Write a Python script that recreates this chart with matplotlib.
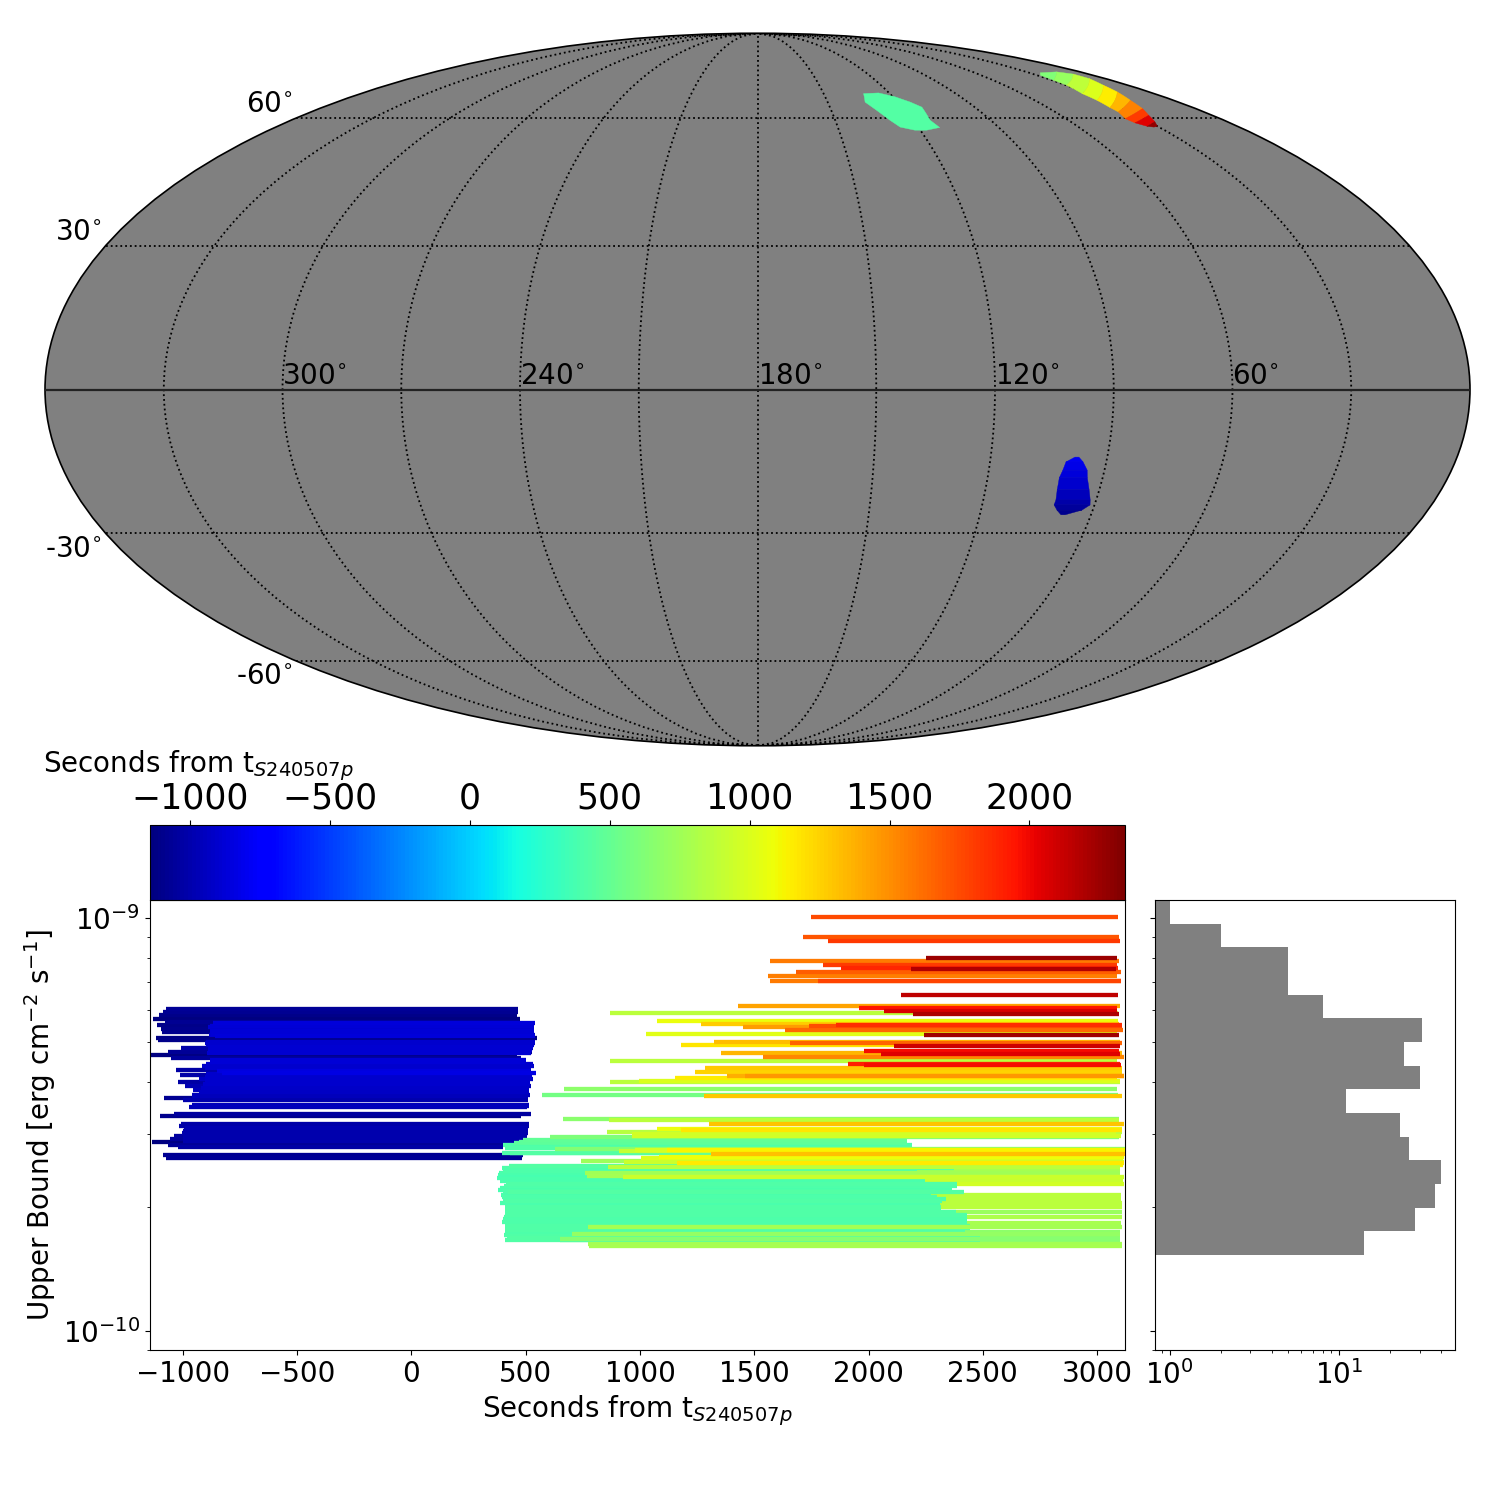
import numpy as np
import matplotlib
matplotlib.use("Agg")
import matplotlib.pyplot as plt
from matplotlib.colors import Normalize
from matplotlib.cm import ScalarMappable
from matplotlib.transforms import offset_copy

T_MIN, T_MAX = -1144, 2342
GRAY = "#808080"
XLABEL = r"Seconds from t$_{S240507p}$"

# Sky regions: (dec, ra_left, ra_right) rows with arrival-time colours
blue_dec = [-13.9, -14.9, -16.6, -18.2, -20.7, -22.85, -23.9, -25.0, -26.0]
blue_ra_l = [98.3, 100.4, 100.8, 101.3, 101.1, 100.7, 100.8, 99.6, 98.1]
blue_ra_r = [97.3, 96.0, 94.5, 94.0, 92.7, 91.6, 91.2, 92.9, 97.0]
blue_time = [-790, -820, -860, -900, -960, -1010, -1060, -1100, -1130]

teal_ra = [131.9, 124.8, 119.1, 114.7, 111.9, 113.4, 112.1, 117.7, 122.0, 126.7, 128.9, 131.5, 134.0]
teal_dec = [66.7, 66.9, 65.8, 64.3, 62.9, 59.4, 57.5, 56.8, 56.8, 57.6, 59.4, 62.0, 64.3]
teal_time = 430

streak_ra_top = [24.1, 13.2, 8.4, 8.4, 12.0, 14.7, 18.7, 21.9, 25.2, 27.8, 30.1]
streak_dec_top = [73.0, 73.3, 72.6, 71.2, 69.2, 67.2, 64.8, 62.5, 60.7, 59.0, 57.8]
streak_ra_bot = [28.4, 29.3, 29.8, 32.7, 33.1, 34.3, 34.6, 37.0, 36.2, 33.9, 31.9]
streak_dec_bot = [72.2, 70.7, 69.2, 66.7, 64.8, 62.8, 61.6, 59.8, 58.7, 57.8, 57.6]
streak_time = [620, 720, 880, 1000, 1150, 1350, 1550, 1800, 2050, 2280, 2300]

# Upper bound intervals (ub in 1e-10 erg/cm2/s)
blue_start = [-1072, -1089, -1105, -1131, -1079, -870, -1114, -1096, -1092, -886, -1118, -1109, -904,
              -1009, -1064, -1142, -1053, -882, -917, -1031, -831, -1013, -930, -1022, -991, -956,
              -961, -1083, -1000, -961, -974, -1039, -1101, -1018, -996, -1004, -1039, -1057, -1136,
              -1066, -1022, -1088, -1074,
              -880, -890, -880, -875, -860, -900, -900, -890, -890, -895, -880, -900, -905, -850,
              -900, -905, -905, -910, -920, -930, -960, -960, -1010, -990, -1000, -1000, -1000, -1000]
blue_end = [465, 465, 460, 475, 470, 541, 456, 536, 533, 541, 548, 536, 541,
            532, 527, 460, 478, 497, 536, 523, 545, 519, 532, 519, 523, 508,
            519, 508, 510, 514, 506, 523, 479, 514, 508, 508, 506, 490, 470,
            402, 402, 488, 485,
            530, 535, 536, 536, 540, 540, 535, 530, 528, 525, 500, 530, 523, 520,
            525, 528, 520, 520, 515, 515, 510, 514, 515, 510, 510, 505, 500, 485]
blue_ub = [6.02, 5.93, 5.82, 5.69, 5.60, 5.58, 5.51, 5.38, 5.29, 5.21, 5.13, 5.05, 4.98,
           4.84, 4.74, 4.66, 4.57, 4.48, 4.39, 4.29, 4.22, 4.16, 4.07, 4.00, 3.92, 3.84,
           3.73, 3.67, 3.63, 3.53, 3.48, 3.36, 3.31, 3.14, 3.07, 3.02, 2.97, 2.92, 2.87,
           2.82, 2.79, 2.66, 2.63,
           5.46, 5.43, 5.33, 5.25, 5.17, 5.01, 4.92, 4.88, 4.79, 4.70, 4.52, 4.43, 4.34, 4.25,
           4.19, 4.11, 4.03, 3.96, 3.88, 3.78, 3.70, 3.50, 3.17, 3.10, 3.05, 2.99, 2.95, 2.89]

under_start = [1120, 780, 780, 780, 913, 960, 860, 860, 860, 860, 730, 808, 780, 780, 680, 660, 650]
under_end = [3115, 3100, 3100, 3100, 3115, 3118, 3105, 3105, 3109, 3109, 3109, 3111, 3105, 3105, 3100, 3100, 3100]
under_ub = [2.52, 2.47, 2.43, 2.37, 2.31, 2.27, 2.13, 2.09, 2.04, 2.00, 1.94, 1.89, 1.83, 1.80, 1.74, 1.71, 1.66]

teal_start = [488, 470, 402, 409, 396, 431, 427, 405, 383, 374, 387, 414, 387, 379, 422, 392, 400,
              387, 409, 409, 409, 409, 405, 396, 409, 414, 405, 431, 409,
              450, 395, 400, 378, 390, 405, 400, 395, 410, 410, 412, 400, 410, 408, 420]
teal_end = [2168, 2147, 2190, 2190, 1311, 1311, 2374, 2212, 2212, 2212, 2247, 2387, 2365, 2291, 2418,
            2274, 2338, 2313, 2317, 2317, 2383, 2431, 2335, 2431, 2444, 2422, 2422, 2488, 2488,
            2168, 2374, 2212, 2212, 2240, 2387, 2291, 2300, 2320, 2317, 2383, 2431, 2444, 2422, 2488]
teal_ub = [2.90, 2.87, 2.82, 2.78, 2.70, 2.69, 2.505, 2.46, 2.41, 2.35, 2.31, 2.27, 2.22, 2.20, 2.17,
           2.13, 2.09, 2.04, 2.00, 1.96, 1.93, 1.905, 1.89, 1.84, 1.80, 1.76, 1.71, 1.68, 1.66,
           2.85, 2.48, 2.435, 2.38, 2.33, 2.25, 2.185, 2.11, 2.065, 1.98, 1.945, 1.865, 1.78, 1.735, 1.695]

late_start = [1747, 1712, 1823, 2251, 1568, 1801, 1880, 2186, 1682, 1560, 1568, 1779, 2140, 1428, 1958,
              2067, 869, 2194, 1075, 1267, 1739, 1858, 1451, 1634, 1026, 2243, 1324, 1655, 1178, 2110,
              1980, 1354, 2054, 1538, 869, 1910, 1980, 1284, 1240, 1381, 1459, 1153, 996, 869, 668,
              571, 1280,
              663, 864, 1302, 1074, 856, 1179, 965, 606, 965, 628, 978, 908, 1117, 1311, 1004, 1083,
              742, 930, 1162, 860, 759, 768, 927, 772, 702, 650, 772, 777]
late_end = [3091, 3094, 3099, 3086, 3094, 3086, 3091, 3083, 3103, 3086, 3103, 3103, 3091, 3099, 3086,
            3086, 3091, 3094, 3091, 3094, 3108, 3108, 3108, 3113, 3089, 3094, 3099, 3108, 3094, 3099,
            3094, 3108, 3099, 3116, 3086, 3099, 3103, 3108, 3108, 3116, 3116, 3086, 3099, 3099, 3086,
            3091, 3108,
            3096, 3096, 3118, 3107, 3109, 3109, 3083, 3096, 3105, 3122, 3122, 3122, 3122, 3122, 3115, 3118,
            3096, 3118, 3118, 3100, 3100, 3100, 3118, 3111, 3100, 3100, 3109, 3109]
late_ub = [10.07, 9.01, 8.81, 8.01, 7.87, 7.69, 7.55, 7.53, 7.40, 7.23, 7.05, 7.04, 6.51, 6.12, 6.05,
           5.95, 5.88, 5.85, 5.63, 5.54, 5.48, 5.52, 5.45, 5.36, 5.24, 5.21, 5.01, 4.99, 4.93, 4.90,
           4.76, 4.71, 4.69, 4.61, 4.50, 4.44, 4.41, 4.33, 4.24, 4.15, 4.14, 4.09, 4.02, 4.00, 3.85,
           3.73, 3.71,
           3.26, 3.25, 3.17, 3.09, 3.04, 3.06, 3.00, 2.95, 2.97, 2.76, 2.74, 2.72, 2.75, 2.68, 2.63, 2.635,
           2.58, 2.56, 2.555, 2.49, 2.41, 2.37, 2.36, 1.79, 1.715, 1.67, 1.62, 1.61]

hist_counts = [14, 28, 37, 40, 26, 23, 11, 30, 24, 31, 8, 5, 5, 2, 1]
hist_low, hist_high = 1.528e-10, 1.105e-9

sky_lon_ticks = [300, 240, 180, 120, 60]
sky_lat_ticks = [60, 30, -30, -60]
cbar_ticks = [-1000, -500, 0, 500, 1000, 1500, 2000]

cmap = plt.get_cmap("jet")
norm = Normalize(T_MIN, T_MAX)


def lon(ra):
    return np.radians(180.0 - np.asarray(ra, dtype=float))


W = 1500.0
fig = plt.figure(figsize=(15, 15), dpi=100, facecolor="white")


def rect(x0, y0, x1, y1):
    return [x0 / W, 1 - y1 / W, (x1 - x0) / W, (y1 - y0) / W]


sky = fig.add_axes(rect(45, 33, 1470, 746), projection="mollweide")
sky.set_facecolor(GRAY)
sky.set_longitude_grid(30)
sky.set_latitude_grid(30)
sky.set_longitude_grid_ends(90)
sky.tick_params(labelbottom=False, labelleft=False, labeltop=False, labelright=False)
sky.grid(True, color="k", ls=":", lw=1.3)
sky.set_axisbelow(False)
for s in sky.spines.values():
    s.set_linewidth(1.2)
sky.plot([-np.pi, np.pi], [0, 0], color="#222222", lw=1.6, zorder=6)

for i in range(len(blue_dec) - 1):
    xs = lon([blue_ra_l[i], blue_ra_r[i], blue_ra_r[i + 1], blue_ra_l[i + 1]])
    ys = np.radians([blue_dec[i], blue_dec[i], blue_dec[i + 1], blue_dec[i + 1]])
    sky.fill(xs, ys, color=cmap(norm(blue_time[i])), lw=0.3, zorder=3)
sky.fill(lon(teal_ra), np.radians(teal_dec), color=cmap(norm(teal_time)), lw=0.3, zorder=3)
for i in range(len(streak_time) - 1):
    xs = lon([streak_ra_top[i], streak_ra_top[i + 1], streak_ra_bot[i + 1], streak_ra_bot[i]])
    ys = np.radians([streak_dec_top[i], streak_dec_top[i + 1], streak_dec_bot[i + 1], streak_dec_bot[i]])
    sky.fill(xs, ys, color=cmap(norm(streak_time[i])), lw=0.3, zorder=3)

lon_offset = offset_copy(sky.transData, fig=fig, x=0, y=0, units="points")
for v in sky_lon_ticks:
    sky.text(np.radians(180 - v), 0, f"{v}" + r"$^{\circ}$", transform=lon_offset,
             ha="left", va="bottom", fontsize=20, zorder=8)
for v in sky_lat_ticks:
    tr = offset_copy(sky.transData, fig=fig, x=-3, y=0 if v > 0 else -1, units="points")
    sky.text(-np.pi, np.radians(v), f"{v}" + r"$^{\circ}$", transform=tr, ha="right",
             va="bottom" if v > 0 else "top", fontsize=20, clip_on=False)

ax = fig.add_axes(rect(150, 900, 1125, 1350))
ax.set_yscale("log")


def draw(starts, ends, ubs, z):
    order = np.argsort(starts)
    for i in order:
        ax.plot([starts[i], ends[i]], [ubs[i] * 1e-10] * 2, color=cmap(norm(starts[i])),
                lw=3.1, solid_capstyle="butt", zorder=z)


draw(blue_start, blue_end, blue_ub, 2)
draw(under_start, under_end, under_ub, 3)
draw(teal_start, teal_end, teal_ub, 4)
draw(late_start, late_end, late_ub, 5)

ax.set_xlim(-1144, 3122)
ax.set_ylim(0.8996e-10, 1.105e-9)
ax.set_xticks([-1000, -500, 0, 500, 1000, 1500, 2000, 2500, 3000])
ax.tick_params(labelsize=20)
ax.set_xlabel(XLABEL, fontsize=20, labelpad=4)
ax.set_ylabel(r"Upper Bound [erg cm$^{-2}$ s$^{-1}$]", fontsize=20)

cax = fig.add_axes(rect(150, 825, 1125, 900))
cb = fig.colorbar(ScalarMappable(norm=norm, cmap=cmap), cax=cax, orientation="horizontal",
                  ticks=cbar_ticks)
cb.ax.xaxis.set_ticks_position("top")
cb.ax.tick_params(labelsize=25)
fig.text(43 / W, 1 - 766 / W, XLABEL, fontsize=20, ha="left", va="center")

hx = fig.add_axes(rect(1155, 900, 1455, 1350))
edges = np.logspace(np.log10(hist_low), np.log10(hist_high), len(hist_counts) + 1)
hx.stairs(hist_counts, edges, orientation="horizontal", fill=True, color=GRAY, baseline=0.01)
hx.set_xscale("log")
hx.set_yscale("log")
hx.set_xlim(0.82, 48.3)
hx.set_ylim(ax.get_ylim())
hx.tick_params(labelsize=20)
hx.yaxis.set_tick_params(which="both", labelleft=False)

fig.savefig("out.png", dpi=100)
